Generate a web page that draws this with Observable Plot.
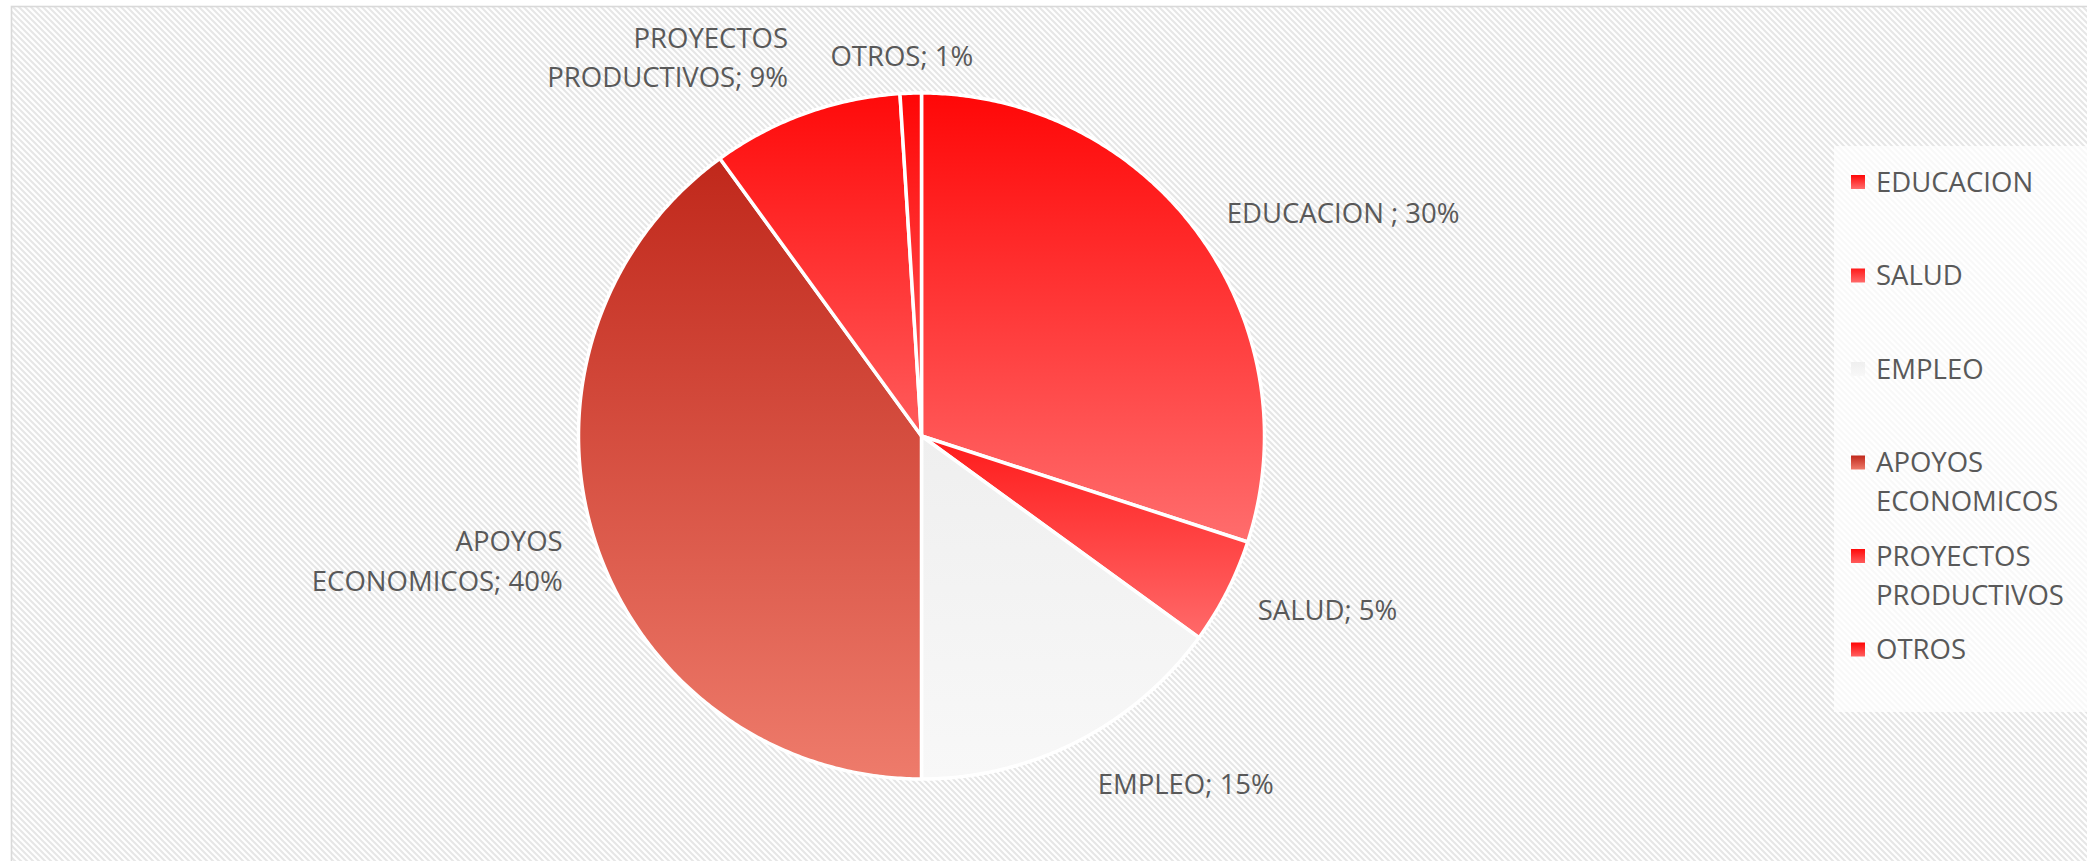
<!DOCTYPE html>
<html>
<head>
<meta charset="utf-8">
<script src="https://cdn.jsdelivr.net/npm/d3@7"></script>
<script src="https://cdn.jsdelivr.net/npm/@observablehq/plot@0.6"></script>
<style>
  html, body { margin: 0; padding: 0; background: #fff; }
  #chart svg { display: block; }
</style>
</head>
<body>
<div id="chart"></div>
<script>
// ---- data ----
const categories = ["EDUCACION", "SALUD", "EMPLEO", "APOYOS ECONOMICOS", "PROYECTOS PRODUCTIVOS", "OTROS"];
const shares = [30, 5, 15, 40, 9, 1];
const labelTexts = ["EDUCACION ; 30%", "SALUD; 5%", "EMPLEO; 15%", "APOYOS\nECONOMICOS; 40%", "PROYECTOS\nPRODUCTIVOS; 9%", "OTROS; 1%"];
const gradTop = ["#ff0707", "#ff1a1a", "#efefef", "#c0281b", "#ff0a0a", "#ff0505"];
const gradBottom = ["#ff6d6d", "#ff6a6a", "#f8f8f8", "#ee7b6b", "#ff5c5c", "#ff6060"];

// ---- layout ----
const W = 2087, H = 861;
const cx = 921, cy = 435.5, R = 343;
const textColor = "#595959";
const font = "'Open Sans', 'Noto Sans', sans-serif";
const fontSize = 27.5;

// ---- pie geometry from the data ----
const arcs = d3.pie().sort(null).value(d => d)(shares);
const slices = arcs.map(a => {
  const pts = [{x: 0, y: 0}];
  const n = Math.max(2, Math.ceil((a.endAngle - a.startAngle) / (Math.PI / 360)));
  for (let k = 0; k <= n; k++) {
    const t = a.startAngle + (a.endAngle - a.startAngle) * k / n;
    pts.push({x: Math.sin(t), y: Math.cos(t)});
  }
  pts.push({x: 0, y: 0});
  return pts;
});

const labels = arcs.map((a, i) => {
  const m = (a.startAngle + a.endAngle) / 2;
  const s = Math.sin(m), c = Math.cos(m);
  const textAnchor = s > 0.3 ? "start" : s < -0.3 ? "end" : "middle";
  const lineAnchor = c > 0.9 ? "bottom" : c < -0.85 ? "top" : "middle";
  const k = lineAnchor === "middle" ? 1.1 : 1.08;
  return {text: labelTexts[i], x: s * k, y: c * k, textAnchor, lineAnchor};
});

const marks = [];
slices.forEach((pts, i) => {
  marks.push(Plot.line(pts, {
    x: "x", y: "y",
    fill: `url(#slice${i})`,
    stroke: "white", strokeWidth: 3.5, strokeLinejoin: "round"
  }));
});
labels.forEach(l => {
  marks.push(Plot.text([l], {
    x: "x", y: "y", text: "text",
    textAnchor: l.textAnchor, lineAnchor: l.lineAnchor,
    lineHeight: 1.45,
    dx: l.textAnchor === "end" && l.lineAnchor === "bottom" ? -8 : l.textAnchor === "middle" ? -8 : l.lineAnchor === "top" ? 8 : 0,
    dy: l.textAnchor === "end" && l.lineAnchor === "middle" ? 6 : l.textAnchor === "start" && l.lineAnchor === "middle" && l.y > 0 ? -4 : 0,
    fill: textColor, fontSize, fontFamily: font
  }));
});

const svg = Plot.plot({
  width: W, height: H,
  margin: 0,
  style: {background: "transparent", fontFamily: font, overflow: "hidden"},
  x: {domain: [-1, 1], range: [cx - R, cx + R], axis: null},
  y: {domain: [-1, 1], range: [cy + R, cy - R], axis: null},
  marks
});

// ---- defs, background and legend ----
const root = d3.select(svg);
const defs = root.insert("defs", ":first-child");
const pat = defs.append("pattern").attr("id", "bg")
  .attr("patternUnits", "userSpaceOnUse").attr("width", 6).attr("height", 6);
pat.append("rect").attr("width", 6).attr("height", 6).attr("fill", "#ffffff");
pat.append("path").attr("d", "M-1,-1L7,7M-1,5L1,7M5,-1L7,1")
  .attr("stroke", "#e6e6e6").attr("stroke-width", 2);
gradTop.forEach((c, i) => {
  const g = defs.append("linearGradient").attr("id", `slice${i}`)
    .attr("x1", 0).attr("y1", 0).attr("x2", 0).attr("y2", 1);
  g.append("stop").attr("offset", "0%").attr("stop-color", c);
  g.append("stop").attr("offset", "100%").attr("stop-color", gradBottom[i]);
});

const bg = root.insert("g", "defs + *");
bg.append("rect").attr("width", W).attr("height", H).attr("fill", "#ffffff");
bg.append("rect").attr("x", 11.5).attr("y", 6.5).attr("width", W + 20).attr("height", H + 20)
  .attr("fill", "url(#bg)").attr("stroke", "#d9d9d9").attr("stroke-width", 1.6);

const legend = root.append("g")
  .attr("font-family", font).attr("font-size", fontSize)
  .attr("fill", textColor).attr("text-anchor", "start");
legend.append("rect").attr("x", 1834).attr("y", 146).attr("width", W - 1834).attr("height", 566)
  .attr("fill", "#ffffff").attr("fill-opacity", 0.72);
const y0 = 182, step = 93.5, lineGap = 39;
categories.forEach((name, i) => {
  const y = y0 + i * step;
  legend.append("rect").attr("x", 1851).attr("y", y - 7).attr("width", 14).attr("height", 14)
    .attr("fill", `url(#slice${i})`);
  const lines = name.length > 10 ? name.split(" ") : [name];
  lines.forEach((ln, j) => {
    legend.append("text").attr("x", 1876).attr("y", y + j * lineGap)
      .attr("dy", "0.36em").attr("text-anchor", "start").text(ln);
  });
});

document.getElementById("chart").appendChild(svg);
</script>
</body>
</html>
